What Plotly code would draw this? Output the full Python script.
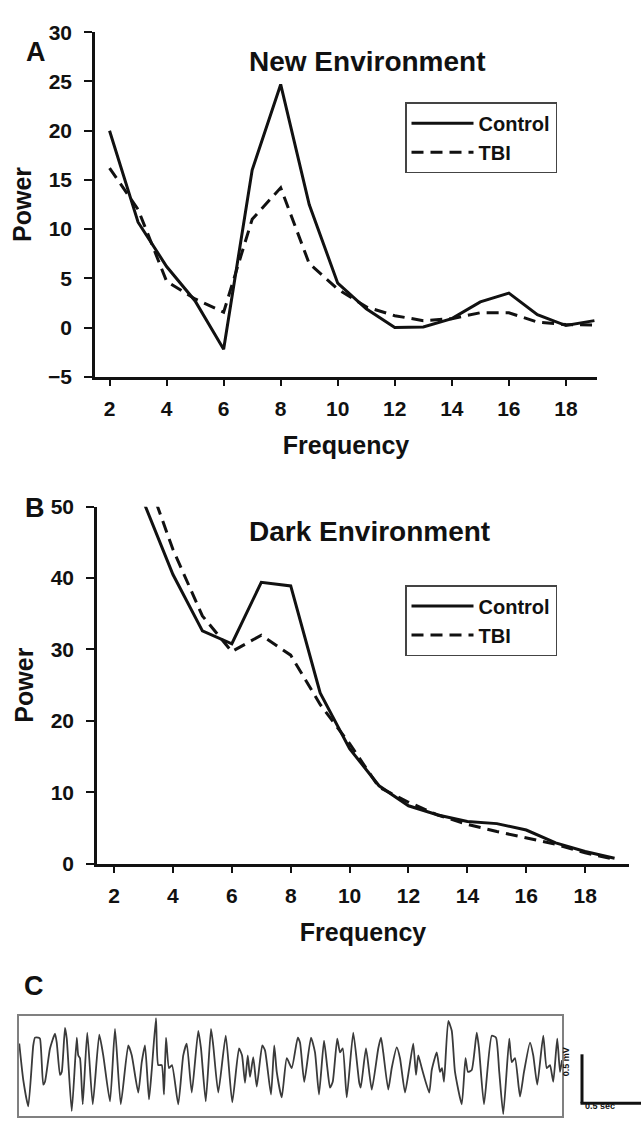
import plotly.graph_objects as go

# ---------------- data ----------------
freq = list(range(2, 20))
control_new = [20.0, 10.7, 6.2, 2.7, -2.2, 16.0, 24.7, 12.5, 4.5, 1.9, 0.0, 0.05, 0.9, 2.6, 3.5, 1.3, 0.2, 0.7]
tbi_new = [16.2, 12.0, 4.7, 2.9, 1.55, 11.0, 14.2, 6.5, 3.9, 2.1, 1.2, 0.7, 0.9, 1.5, 1.5, 0.55, 0.3, 0.25]

freq_dark = list(range(3, 20))
control_dark = [50.7, 40.5, 32.6, 30.8, 39.4, 38.9, 23.9, 16.1, 10.9, 8.1, 6.8, 5.9, 5.6, 4.7, 2.9, 1.7, 0.75]
tbi_dark = [55.5, 44.0, 34.7, 29.7, 32.0, 29.2, 22.3, 16.8, 10.7, 8.6, 6.8, 5.5, 4.5, 3.6, 2.7, 1.5, 0.6]

x_ticks = [2, 4, 6, 8, 10, 12, 14, 16, 18]

eeg_time_s = [0.002, 0.034, 0.074, 0.114, 0.128, 0.154, 0.168, 0.194, 0.208, 0.248,
              0.288, 0.302, 0.328, 0.342, 0.368, 0.382, 0.422, 0.462, 0.474, 0.488,
              0.510, 0.546, 0.590, 0.642, 0.674, 0.728, 0.768, 0.814, 0.874, 0.902,
              0.954, 0.982, 1.008, 1.040, 1.062, 1.096, 1.114, 1.142, 1.160, 1.176,
              1.200, 1.224, 1.274, 1.314, 1.342, 1.382, 1.434, 1.456, 1.494, 1.536,
              1.554, 1.594, 1.654, 1.706, 1.760, 1.784, 1.808, 1.830, 1.848, 1.874,
              1.902, 1.946, 1.968, 2.016, 2.042, 2.062, 2.102, 2.142, 2.182, 2.230,
              2.248, 2.282, 2.336, 2.368, 2.400, 2.440, 2.466, 2.488, 2.510, 2.546,
              2.568, 2.590, 2.622, 2.674, 2.722, 2.734, 2.776, 2.822, 2.874, 2.896,
              2.914, 2.954, 2.982, 3.022, 3.048, 3.088, 3.122, 3.154, 3.176, 3.194,
              3.222, 3.282, 3.302, 3.342, 3.368, 3.384, 3.400, 3.434, 3.462, 3.488,
              3.542, 3.572, 3.592, 3.622, 3.662, 3.680, 3.720, 3.782, 3.816, 3.842,
              3.874, 3.922, 3.942, 3.968, 4.008, 4.040, 4.088, 4.114, 4.146, 4.194,
              4.222, 4.248, 4.274, 4.306, 4.328, 4.344]
eeg_mv = [0.23, -0.14, -0.41, 0.21, 0.29, 0.29, 0.28, -0.19, -0.16, 0.18,
          0.33, 0.24, -0.09, -0.06, 0.39, 0.28, -0.46, 0.29, 0.11, 0.08,
          -0.39, 0.34, -0.39, 0.32, 0.11, -0.36, 0.38, -0.39, 0.21, 0.11,
          -0.27, 0.04, 0.21, -0.34, -0.04, 0.49, 0.01, 0.01, -0.29, 0.29,
          -0.02, 0.01, -0.39, 0.11, 0.23, -0.27, 0.36, 0.18, -0.36, 0.38,
          0.21, -0.27, 0.31, -0.37, 0.18, 0.11, -0.17, 0.11, -0.11, 0.09,
          -0.21, 0.21, 0.16, -0.29, 0.21, -0.06, -0.32, 0.08, -0.02, 0.29,
          0.24, -0.16, 0.29, 0.14, -0.29, 0.26, -0.01, -0.22, -0.16, 0.28,
          0.14, 0.18, -0.32, 0.34, -0.17, -0.22, 0.18, -0.24, 0.18, 0.29,
          0.14, -0.24, -0.02, 0.19, 0.08, -0.27, -0.02, 0.23, -0.09, 0.11,
          -0.02, -0.27, -0.04, 0.14, -0.06, -0.02, -0.16, 0.46, 0.36, -0.06,
          -0.39, 0.08, -0.06, -0.04, 0.34, 0.18, -0.39, 0.31, 0.29, -0.06,
          -0.49, 0.28, 0.04, 0.08, -0.31, -0.06, 0.24, 0.11, -0.19, 0.31,
          -0.02, 0.01, -0.16, 0.28, -0.06, 0.06]

scale_bar_mv = 0.5
scale_bar_s = 0.5

# ---------------- layout helpers ----------------
W, H = 641, 1129
FONT = "Liberation Sans, Arial, sans-serif"
INK = "#111111"


def px(x):
    return x / W


def py(y):
    return 1 - y / H


# panel pixel boxes (left, right, top, bottom)
A_box = (95, 597, 20.7, 372.3)
B_box = (97, 629, 505, 869.3)
C_box = (19, 562, 1025, 1127)
A_xr = [1.49, 19.09]
A_yr = [-5, 30]
B_xr = [1.42, 19.49]
B_yr = [0, 50]
C_xr = [0, 4.344]
C_yr = [-0.51, 0.51]

fig = go.Figure()

line_solid = dict(color=INK, width=3)
line_dash = dict(color=INK, width=3, dash="12px,7px")

fig.add_trace(go.Scatter(x=freq, y=control_new, mode="lines", name="Control",
                         line=line_solid, xaxis="x", yaxis="y", legend="legend"))
fig.add_trace(go.Scatter(x=freq, y=tbi_new, mode="lines", name="TBI",
                         line=line_dash, xaxis="x", yaxis="y", legend="legend"))
fig.add_trace(go.Scatter(x=freq_dark, y=control_dark, mode="lines", name="Control",
                         line=line_solid, xaxis="x2", yaxis="y2", legend="legend2"))
fig.add_trace(go.Scatter(x=freq_dark, y=tbi_dark, mode="lines", name="TBI",
                         line=line_dash, xaxis="x2", yaxis="y2", legend="legend2"))
fig.add_trace(go.Scatter(x=eeg_time_s, y=eeg_mv, mode="lines", name="EEG",
                         line=dict(color="#3a3a3a", width=1.8, shape="spline", smoothing=0.5),
                         xaxis="x3", yaxis="y3", showlegend=False))

tickfont = dict(family=FONT, size=21, color=INK, weight="bold")
titlefont = dict(family=FONT, size=25, color=INK, weight="bold")


def xax(box, rng, anchor, title_standoff):
    return dict(domain=[px(box[0]), px(box[1])], range=rng, anchor=anchor,
                tickmode="array", tickvals=x_ticks, ticks="outside", ticklen=7,
                tickwidth=2, tickcolor=INK, showline=True, linewidth=2.5, linecolor=INK,
                showgrid=False, zeroline=False, tickfont=tickfont,
                ticklabelstandoff=4,
                title=dict(text="Frequency", font=titlefont, standoff=title_standoff))


def yax(box, rng, dtick, anchor, title_standoff):
    return dict(domain=[py(box[3]), py(box[2])], range=rng, anchor=anchor,
                dtick=dtick, tick0=0, ticks="outside", ticklen=8, tickwidth=2,
                tickcolor=INK, showline=True, linewidth=2.5, linecolor=INK,
                showgrid=False, zeroline=False, tickfont=tickfont,
                ticklabelstandoff=8,
                title=dict(text="Power", font=titlefont, standoff=title_standoff))


legend_common = dict(xanchor="left", yanchor="top", bgcolor="white",
                     bordercolor="#444444", borderwidth=1.5,
                     font=dict(family=FONT, size=20, color=INK, weight="bold"),
                     itemwidth=62, tracegroupgap=0)

# scale bar geometry derived from panel C scaling
c_px_per_s = (C_box[1] - C_box[0]) / (C_xr[1] - C_xr[0])
c_px_per_mv = (C_box[3] - C_box[2]) / (C_yr[1] - C_yr[0])
sb_x0, sb_y0 = 582, 1114
sb_top = sb_y0 - scale_bar_mv * c_px_per_mv
sb_right = sb_x0 + scale_bar_s * c_px_per_s

fig.update_layout(
    width=W, height=H, margin=dict(l=0, r=0, t=0, b=0),
    paper_bgcolor="white", plot_bgcolor="white",
    showlegend=True,
    xaxis=xax(A_box, A_xr, "y", 18),
    yaxis=yax(A_box, A_yr, 5, "x", 10),
    xaxis2=xax(B_box, B_xr, "y2", 18),
    yaxis2=yax(B_box, B_yr, 10, "x2", 10),
    xaxis3=dict(domain=[px(C_box[0]), px(C_box[1])], range=C_xr, anchor="y3",
                showticklabels=False, ticks="", showgrid=False, zeroline=False,
                showline=True, mirror=True, linecolor="#808080", linewidth=1.5),
    yaxis3=dict(domain=[py(C_box[3]), py(C_box[2])], range=C_yr, anchor="x3",
                showticklabels=False, ticks="", showgrid=False, zeroline=False,
                showline=True, mirror=True, linecolor="#808080", linewidth=1.5),
    legend=dict(x=px(405), y=py(92), **legend_common),
    legend2=dict(x=px(405), y=py(585), **legend_common),
    shapes=[
        dict(type="line", xref="paper", yref="paper",
             x0=px(sb_x0), x1=px(sb_x0), y0=py(sb_y0), y1=py(sb_top),
             line=dict(color=INK, width=3)),
        dict(type="line", xref="paper", yref="paper",
             x0=px(sb_x0 - 1.5), x1=px(sb_right), y0=py(sb_y0), y1=py(sb_y0),
             line=dict(color=INK, width=3)),
    ],
    annotations=[
        dict(text="A", x=px(24), y=py(23), xref="paper", yref="paper",
             showarrow=False, font=dict(family=FONT, size=27, color=INK, weight="bold")),
        dict(text="New Environment", x=px(367), y=py(33), xref="paper", yref="paper",
             showarrow=False, font=dict(family=FONT, size=28, color=INK, weight="bold")),
        dict(text="B", x=px(23), y=py(506), xref="paper", yref="paper",
             showarrow=False, font=dict(family=FONT, size=27, color=INK, weight="bold")),
        dict(text="Dark Environment", x=px(370), y=py(530), xref="paper", yref="paper",
             showarrow=False, font=dict(family=FONT, size=28, color=INK, weight="bold")),
        dict(text="C", x=px(22), y=py(1012), xref="paper", yref="paper",
             showarrow=False, font=dict(family=FONT, size=27, color=INK, weight="bold")),
        dict(text="%g mV" % scale_bar_mv, x=px(sb_x0 - 9), y=py((sb_y0 + sb_top) / 2),
             xref="paper", yref="paper", showarrow=False, textangle=-90,
             font=dict(family=FONT, size=9, color=INK, weight="bold")),
        dict(text="%g sec" % scale_bar_s, x=px(617), y=py(1124), xref="paper", yref="paper",
             showarrow=False,
             font=dict(family=FONT, size=9, color=INK, weight="bold")),
    ],
)

fig.write_html("out.html")
